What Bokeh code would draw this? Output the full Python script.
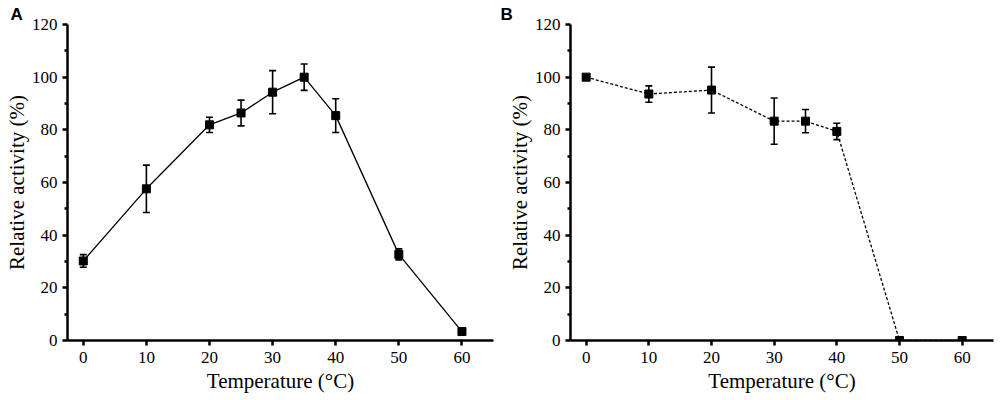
from bokeh.plotting import figure
from bokeh.layouts import row
from bokeh.models import Range1d, FixedTicker, ColumnDataSource, Whisker, TeeHead
from bokeh.embed import file_html
from bokeh.resources import INLINE

temps = [0, 10, 20, 25, 30, 35, 40, 50, 60]
act_a = [30.2, 57.6, 81.9, 86.4, 94.3, 100.0, 85.4, 32.7, 3.4]
err_a = [2.4, 9.0, 2.9, 4.9, 8.2, 5.0, 6.4, 2.1, 0.5]

temps_b = [0, 10, 20, 30, 35, 40, 50, 60]
act_b = [100.0, 93.6, 95.1, 83.3, 83.3, 79.4, 0.0, 0.0]
err_b = [0.5, 3.1, 8.7, 8.8, 4.4, 3.1, 0.0, 0.0]

x_ticks = [0, 10, 20, 30, 40, 50, 60]
y_ticks = [0, 20, 40, 60, 80, 100, 120]
y_minor = [10, 30, 50, 70, 90, 110]

FONT = "Liberation Serif"


def make(x, y, e, dash, label, fw, left, right, title_off):
    p = figure(frame_width=fw, frame_height=316, output_backend="svg", toolbar_location=None,
               x_range=Range1d(-2.5, 65), y_range=Range1d(0, 120),
               min_border_left=left, min_border_right=right,
               min_border_top=24, min_border_bottom=60,
               title=label)
    p.title.align = "left"
    p.title.offset = title_off
    p.title.standoff = 2
    p.title.text_font = "Liberation Sans"
    p.title.text_font_style = "bold"
    p.title.text_font_size = "17px"
    p.title.text_color = "black"
    p.outline_line_color = None
    p.grid.visible = False
    p.background_fill_color = "white"
    for ax in (p.xaxis[0], p.yaxis[0]):
        ax.axis_line_width = 2.5
        ax.major_tick_line_width = 2.5
        ax.minor_tick_line_width = 2.5
        ax.major_tick_out = 5
        ax.major_tick_in = 0
        ax.minor_tick_out = 3
        ax.minor_tick_in = 0
        ax.major_label_text_font = FONT
        ax.major_label_text_font_size = "17px"
        ax.major_label_text_color = "black"
        ax.axis_label_text_font = FONT
        ax.axis_label_text_font_size = "21px"
        ax.axis_label_text_font_style = "normal"
        ax.axis_label_text_color = "black"
        ax.axis_line_color = "black"
        ax.major_tick_line_color = "black"
        ax.minor_tick_line_color = "black"
    p.xaxis.ticker = FixedTicker(ticks=x_ticks, minor_ticks=[])
    p.yaxis.ticker = FixedTicker(ticks=y_ticks, minor_ticks=y_minor)
    p.xaxis.axis_label = "Temperature (°C)"
    p.yaxis.axis_label = "Relative activity (%)"
    p.xaxis.major_label_standoff = 6
    p.yaxis.major_label_standoff = 5
    p.xaxis.axis_label_standoff = 3
    p.yaxis.axis_label_standoff = 0

    src = ColumnDataSource(dict(x=x, y=y,
                                up=[a + b for a, b in zip(y, e)],
                                lo=[a - b for a, b in zip(y, e)]))
    p.line("x", "y", source=src, line_color="black", line_width=1.3, line_dash=dash)
    w = Whisker(source=src, base="x", upper="up", lower="lo", line_width=1.6,
                line_color="black",
                upper_head=TeeHead(size=7, line_width=1.6, line_color="black"),
                lower_head=TeeHead(size=7, line_width=1.6, line_color="black"))
    p.add_layout(w)
    p.scatter("x", "y", source=src, marker="square", size=8, fill_color="black",
              line_color="black")
    return p


pa = make(temps, act_a, err_a, "solid", "A", 426, 67, 5, -57)
pb = make(temps_b, act_b, err_b, "3 2", "B", 423, 72, 7, -70)
layout = row(pa, pb)
open("out.html", "w").write(file_html(layout, INLINE))
